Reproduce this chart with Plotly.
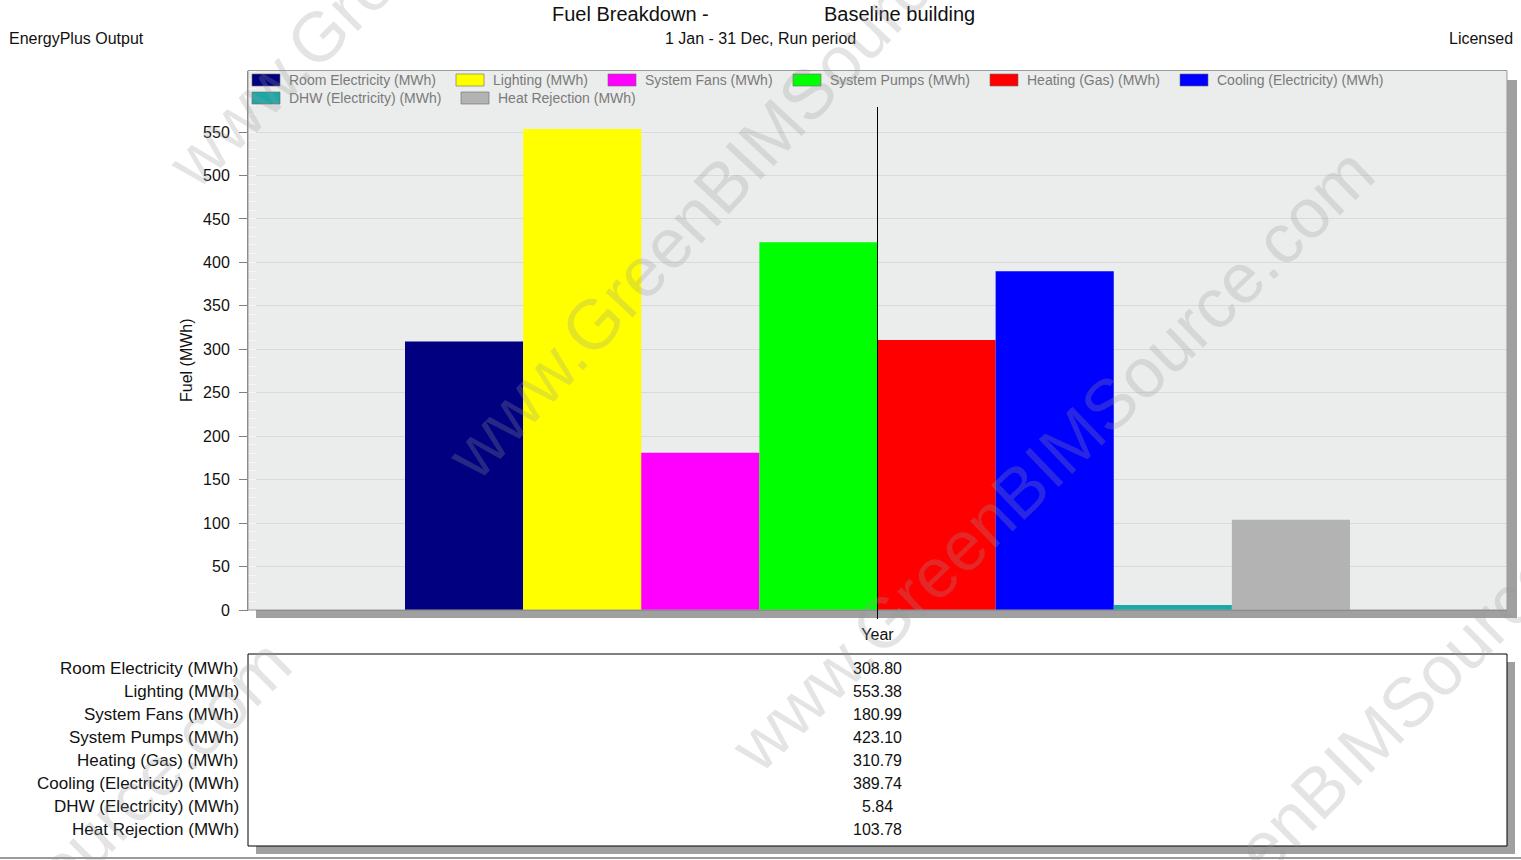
import plotly.graph_objects as go

# ---------------- data ----------------
categories = ["Year"]
series_names = [
    "Room Electricity (MWh)",
    "Lighting (MWh)",
    "System Fans (MWh)",
    "System Pumps (MWh)",
    "Heating (Gas) (MWh)",
    "Cooling (Electricity) (MWh)",
    "DHW (Electricity) (MWh)",
    "Heat Rejection (MWh)",
]
series_values = [308.80, 553.38, 180.99, 423.10, 310.79, 389.74, 5.84, 103.78]
series_colors = ["#000080", "#ffff00", "#ff00ff", "#00ff00",
                 "#ff0000", "#0000ff", "#1aa8a8", "#b3b3b3"]
y_ticks = [0, 50, 100, 150, 200, 250, 300, 350, 400, 450, 500, 550]

# ---------------- geometry helpers ----------------
W, H = 1521, 860
def X(px):
    return px / W
def Y(py):
    return 1 - py / H

PLOT_L, PLOT_R, PLOT_T, PLOT_B = 248, 1507, 70.5, 610
Y_MAX = (PLOT_B - PLOT_T) * 550 / 478.0

FONT = "Liberation Sans, Arial, sans-serif"

fig = go.Figure()
for name, val, col in zip(series_names, series_values, series_colors):
    fig.add_trace(go.Bar(
        x=categories, y=[val], name=name,
        marker=dict(color=col, line=dict(width=0)),
        showlegend=False, hoverinfo="skip",
    ))

bar_span = 945.0
fig.update_layout(
    width=W, height=H,
    margin=dict(l=0, r=0, t=0, b=0),
    paper_bgcolor="white",
    plot_bgcolor="#ebecec",
    barmode="group",
    bargap=1 - bar_span / (PLOT_R - PLOT_L),
    bargroupgap=0,
    font=dict(family=FONT, color="#111111"),
    hovermode=False,
    xaxis=dict(
        domain=[X(PLOT_L), X(PLOT_R)],
        type="category", range=[-0.5, 0.5],
        showgrid=False, zeroline=False, automargin=False,
        showline=True, linecolor="#808080", linewidth=1,
        ticks="outside", ticklen=8, tickcolor="#000000",
        tickfont=dict(size=16, color="#111111"),
        ticklabelstandoff=2,
    ),
    yaxis=dict(
        domain=[Y(PLOT_B), Y(PLOT_T)],
        range=[0, Y_MAX],
        tickvals=y_ticks, automargin=False,
        showgrid=True, gridcolor="#d9dada", gridwidth=1,
        zeroline=False,
        showline=True, linecolor="#808080", linewidth=1,
        ticks="outside", ticklen=8, tickcolor="#808080",
        tickfont=dict(size=16, color="#111111"),
        ticklabelstandoff=6,
        minor=dict(ticks="inside", ticklen=8, tickcolor="#f6f6f6", dtick=10, showgrid=False),
    ),
)

shapes = []
# plot shadow
shapes.append(dict(type="rect", xref="paper", yref="paper",
                   x0=X(256), x1=X(1517), y0=Y(618), y1=Y(PLOT_B),
                   fillcolor="#a0a0a0", line=dict(width=0), layer="below"))
shapes.append(dict(type="rect", xref="paper", yref="paper",
                   x0=X(PLOT_R), x1=X(1517), y0=Y(618), y1=Y(80),
                   fillcolor="#a0a0a0", line=dict(width=0), layer="below"))
# plot border (top/right)
shapes.append(dict(type="rect", xref="paper", yref="paper",
                   x0=X(PLOT_L), x1=X(PLOT_R), y0=Y(PLOT_B), y1=Y(PLOT_T),
                   line=dict(color="#9a9a9a", width=1), fillcolor="rgba(0,0,0,0)", layer="above"))
# central category line
shapes.append(dict(type="line", xref="x", yref="paper",
                   x0=0, x1=0, y0=Y(618), y1=Y(107),
                   line=dict(color="#000000", width=1), layer="above"))
# table shadow + box
shapes.append(dict(type="rect", xref="paper", yref="paper",
                   x0=X(256), x1=X(1515), y0=Y(854), y1=Y(846),
                   fillcolor="#a0a0a0", line=dict(width=0), layer="below"))
shapes.append(dict(type="rect", xref="paper", yref="paper",
                   x0=X(PLOT_R), x1=X(1515), y0=Y(854), y1=Y(662),
                   fillcolor="#a0a0a0", line=dict(width=0), layer="below"))
shapes.append(dict(type="rect", xref="paper", yref="paper",
                   x0=X(PLOT_L), x1=X(PLOT_R), y0=Y(846), y1=Y(654),
                   fillcolor="white", line=dict(color="#000000", width=1), layer="below"))
# bottom rule
shapes.append(dict(type="line", xref="paper", yref="paper",
                   x0=0, x1=1, y0=Y(858), y1=Y(858),
                   line=dict(color="#9a9a9a", width=2), layer="below"))

annotations = []

# manual legend (two rows)
legend_pos = [(252, 80), (456, 80), (608, 80), (793, 80), (990, 80), (1180, 80),
              (252, 98), (461, 98)]
for (lx, ly), name, col in zip(legend_pos, series_names, series_colors):
    shapes.append(dict(type="rect", xref="paper", yref="paper",
                       x0=X(lx), x1=X(lx + 28), y0=Y(ly + 6), y1=Y(ly - 6),
                       fillcolor=col, line=dict(color="#6a6a6a", width=0.6), layer="above"))
    annotations.append(dict(xref="paper", yref="paper", x=X(lx + 35), y=Y(ly),
                            xanchor="left", yanchor="middle", showarrow=False,
                            text=name, font=dict(size=14, color="#7a7a7a", family=FONT)))

# titles
annotations += [
    dict(xref="paper", yref="paper", x=X(550), y=Y(14), xanchor="left", yanchor="middle",
         showarrow=False, text="Fuel Breakdown -", font=dict(size=20, color="#111111")),
    dict(xref="paper", yref="paper", x=X(822), y=Y(14), xanchor="left", yanchor="middle",
         showarrow=False, text="Baseline building", font=dict(size=20, color="#111111")),
    dict(xref="paper", yref="paper", x=X(760), y=Y(38), xanchor="center", yanchor="middle",
         showarrow=False, text="1 Jan - 31 Dec, Run period", font=dict(size=16, color="#111111")),
    dict(xref="paper", yref="paper", x=X(7), y=Y(38), xanchor="left", yanchor="middle",
         showarrow=False, text="EnergyPlus Output", font=dict(size=16, color="#111111")),
    dict(xref="paper", yref="paper", x=X(1515), y=Y(38), xanchor="right", yanchor="middle",
         showarrow=False, text="Licensed", font=dict(size=16, color="#111111")),
    dict(xref="paper", yref="paper", x=X(186), y=Y(360), xanchor="center", yanchor="middle",
         showarrow=False, text="Fuel (MWh)", textangle=-90, font=dict(size=16, color="#111111")),
]

# data table under the chart
row_y0, row_dy = 668, 23
for i, (name, val) in enumerate(zip(series_names, series_values)):
    yy = row_y0 + i * row_dy
    annotations.append(dict(xref="paper", yref="paper", x=X(241), y=Y(yy),
                            xanchor="right", yanchor="middle", showarrow=False,
                            text=name, font=dict(size=17, color="#111111")))
    annotations.append(dict(xref="paper", yref="paper", x=X(877), y=Y(yy),
                            xanchor="center", yanchor="middle", showarrow=False,
                            text=f"{val:.2f}", font=dict(size=16, color="#111111")))

# watermarks
wm_text = "www.GreenBIMSource.com"
wm_centers = [(484, -129, -45), (753, 153, -47), (1052, 460, -44), (1351, 759, -45), (-26, 956, -45)]
for cx, cy, ang in wm_centers:
    annotations.append(dict(xref="paper", yref="paper", x=X(cx), y=Y(cy),
                            xanchor="center", yanchor="middle", showarrow=False,
                            text=wm_text, textangle=ang,
                            font=dict(size=70, color="rgba(150,150,150,0.26)", family=FONT)))

fig.update_layout(shapes=shapes, annotations=annotations)
fig.write_html("out.html",
               config={"displayModeBar": False, "staticPlot": True, "responsive": False},
               post_script="document.body.style.margin='0';document.body.style.overflow='hidden';")
